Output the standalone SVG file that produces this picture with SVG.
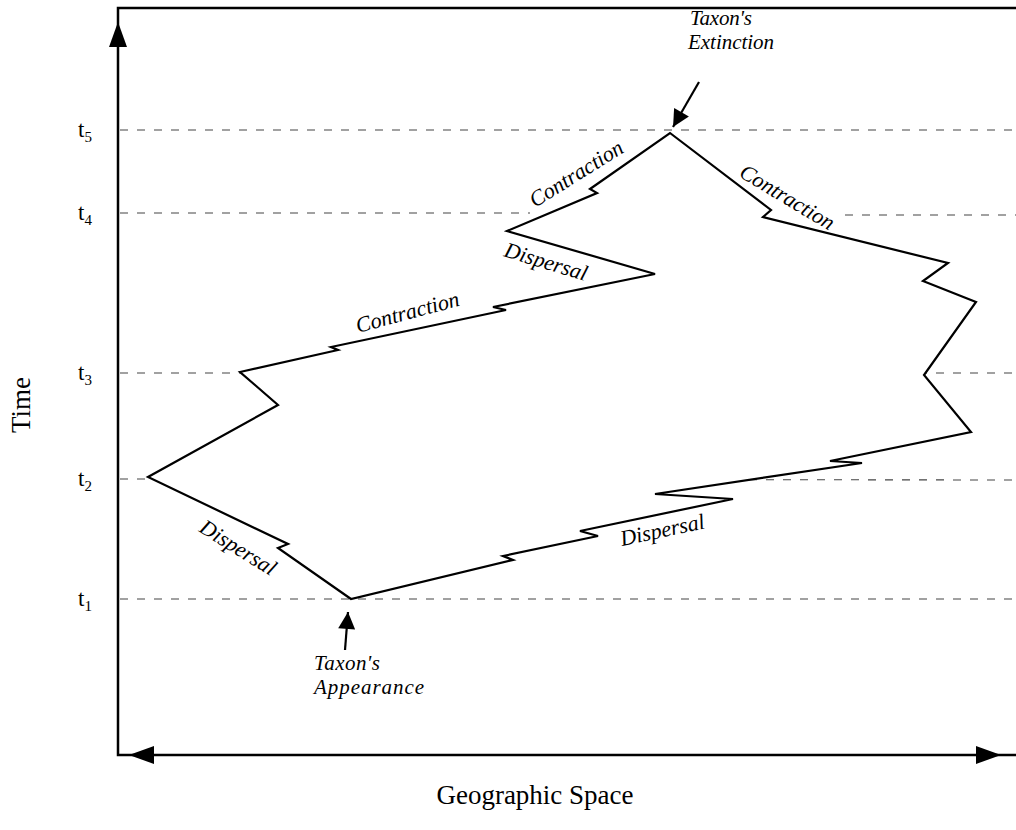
<svg xmlns="http://www.w3.org/2000/svg" width="1016" height="830" viewBox="0 0 1016 830">
<style>
.frame{fill:none;stroke:#000;stroke-width:2.5}
.head{fill:#000;stroke:none}
.dash{fill:none;stroke:#444;stroke-width:1.1;stroke-dasharray:8 9}
.range{fill:#fff;stroke:#000;stroke-width:2.2;stroke-linejoin:miter}
.lbl{font-family:"Liberation Serif","Times New Roman",serif;font-style:italic;font-size:22px;fill:#000}
.note{font-family:"Liberation Serif","Times New Roman",serif;font-style:italic;font-size:21px;fill:#000}
.ax{font-family:"Liberation Serif","Times New Roman",serif;font-size:27px;fill:#000}
.t{font-family:"Liberation Serif","Times New Roman",serif;font-size:23px;fill:#000}
.sub{font-size:15px}
.ptr{fill:none;stroke:#000;stroke-width:2.2}
</style>
<defs>
<marker id="ah" viewBox="0 0 10 10" refX="10" refY="5" markerWidth="21" markerHeight="17" markerUnits="userSpaceOnUse" orient="auto">
<path d="M0,0 L10,5 L0,10 Z" fill="#000"/>
</marker>
</defs>
<rect width="1016" height="830" fill="#fff"/>

<g id="time-levels">
<line class="dash" x1="120" y1="130" x2="1016" y2="130"/>
<line class="dash" x1="120" y1="213" x2="530" y2="213"/>
<line class="dash" x1="845" y1="215" x2="1016" y2="215"/>
<line class="dash" x1="120" y1="373" x2="1016" y2="373"/>
<line class="dash" x1="120" y1="479" x2="1016" y2="480"/>
<line class="dash" x1="120" y1="599" x2="1016" y2="599"/>
</g>

<g id="axes">
<polyline class="frame" points="1016,8 118,8 118,755 1016,755"/>
<polygon class="head" points="118,22 109,47 127,47"/>
<polygon class="head" points="129,755 154,746 154,764"/>
<polygon class="head" points="1001,755 976,746 976,764"/>
</g>

<g id="taxon-range">
<polygon class="range" points="351,599 278,548 288,544 148,477 278,405 240,372 338,350 331,347 506,310 493,307 655,274 507,231 597,193 590,189 670,133 771,210 763,217 948,263 923,281 976,302 924,375 971,432 830,461 862,463 655,494 733,499 580,531 598,536 503,556 513,560 351,599"/>
</g>

<g id="range-labels">
<text class="lbl" transform="translate(535,208) rotate(-32)">Contraction</text>
<text class="lbl" transform="translate(503,256) rotate(17)">Dispersal</text>
<text class="lbl" transform="translate(358,333) rotate(-15)">Contraction</text>
<text class="lbl" transform="translate(738,176) rotate(31)">Contraction</text>
<text class="lbl" transform="translate(198,531) rotate(32)">Dispersal</text>
<text class="lbl" transform="translate(622,546) rotate(-12)">Dispersal</text>
</g>

<g id="time-labels">
<text class="t" x="78" y="137">t<tspan class="sub" dy="5">5</tspan></text>
<text class="t" x="78" y="220">t<tspan class="sub" dy="5">4</tspan></text>
<text class="t" x="78" y="380">t<tspan class="sub" dy="5">3</tspan></text>
<text class="t" x="78" y="486">t<tspan class="sub" dy="5">2</tspan></text>
<text class="t" x="78" y="606">t<tspan class="sub" dy="5">1</tspan></text>
</g>

<g id="axis-labels">
<text class="ax" text-anchor="middle" transform="translate(30,405) rotate(-90)">Time</text>
<text class="ax" x="535" y="804" text-anchor="middle">Geographic Space</text>
</g>

<g id="extinction">
<text class="note" x="690" y="25" textLength="62">Taxon's</text>
<text class="note" x="688" y="49" textLength="86">Extinction</text>
</g>

<g id="appearance">
<text class="note" x="314" y="670" textLength="66">Taxon's</text>
<text class="note" x="314" y="694" textLength="110">Appearance</text>
</g>

<g id="connectors">
<line class="ptr" x1="699" y1="82" x2="673" y2="127" marker-end="url(#ah)"/>
<line class="ptr" x1="345" y1="650" x2="348" y2="612" marker-end="url(#ah)"/>
</g>
</svg>
